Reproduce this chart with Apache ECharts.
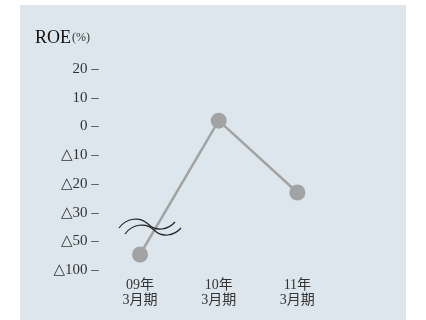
<!DOCTYPE html>
<html><head><meta charset="utf-8">
<script src="https://cdn.jsdelivr.net/npm/echarts@6/dist/echarts.min.js"></script>
<style>html,body{margin:0;padding:0;background:#fff}#c{width:426px;height:320px}</style>
</head><body><div id="c"></div>
<script>
var categories = ['09年\n3月期', '10年\n3月期', '11年\n3月期'];
var roeValues = [-73, 2, -23];
var tickValues = [-100, -50, -30, -20, -10, 0, 10, 20];
var tickLabels = ['△100', '△50', '△30', '△20', '△10', '0', '10', '20'];

// map real value onto the broken axis (one slot per tick)
function toSlot(v) {
  for (var i = 0; i < tickValues.length - 1; i++) {
    var a = tickValues[i], b = tickValues[i + 1];
    if (v >= a && v <= b) return i + (v - a) / (b - a);
  }
  return v < tickValues[0] ? 0 : tickValues.length - 1;
}

function wave(dx, dy) {
  var st = { fill: 'none', stroke: '#222', lineWidth: 1.2 };
  return [
    { type: 'bezierCurve', z: 10, shape: { x1: 119 + dx, y1: 228 + dy, cpx1: 126 + dx, cpy1: 218 + dy, cpx2: 140 + dx, cpy2: 216 + dy, x2: 148 + dx, y2: 224 + dy }, style: st },
    { type: 'bezierCurve', z: 10, shape: { x1: 148 + dx, y1: 224 + dy, cpx1: 156 + dx, cpy1: 232 + dy, cpx2: 168 + dx, cpy2: 230 + dy, x2: 175 + dx, y2: 222 + dy }, style: st }
  ];
}

var chart = echarts.init(document.getElementById('c'));
var serif = '"Liberation Serif","DejaVu Serif","Noto Sans CJK JP",serif';
chart.setOption({
  animation: false,
  graphic: [
    { type: 'rect', z: -10, shape: { x: 20, y: 5, width: 386, height: 315 }, style: { fill: '#dce6ec' } }
  ].concat(wave(0, 0), wave(6, 6)),
  title: {
    left: 35, top: 29, padding: 0,
    text: '{a|ROE}{b|(%)}',
    textStyle: {
      rich: {
        a: { fontSize: 18, fontFamily: serif, color: '#111', fontWeight: 'normal' },
        b: { fontSize: 12, fontFamily: serif, color: '#333', fontWeight: 'normal', padding: [0, 0, 0, 1] }
      }
    }
  },
  grid: { left: 100.7, right: 89.3, top: 69, bottom: 50 },
  xAxis: {
    type: 'category',
    data: categories,
    axisLine: { show: false },
    axisTick: { show: false },
    axisLabel: { margin: 8, fontSize: 14, lineHeight: 15, color: '#333', fontFamily: serif }
  },
  yAxis: {
    type: 'value', min: 0, max: 7, interval: 1,
    splitLine: { show: false },
    axisLine: { show: false },
    axisTick: { show: false },
    axisLabel: {
      margin: 2, fontSize: 15, color: '#333', fontFamily: serif,
      formatter: function (v) { return tickLabels[Math.round(v)] + ' –'; }
    }
  },
  series: [{
    type: 'line',
    data: roeValues.map(toSlot),
    symbol: 'circle', symbolSize: 16,
    lineStyle: { color: '#a3a3a3', width: 2.5 },
    itemStyle: { color: '#a3a3a3' }
  }]
});
</script></body></html>
